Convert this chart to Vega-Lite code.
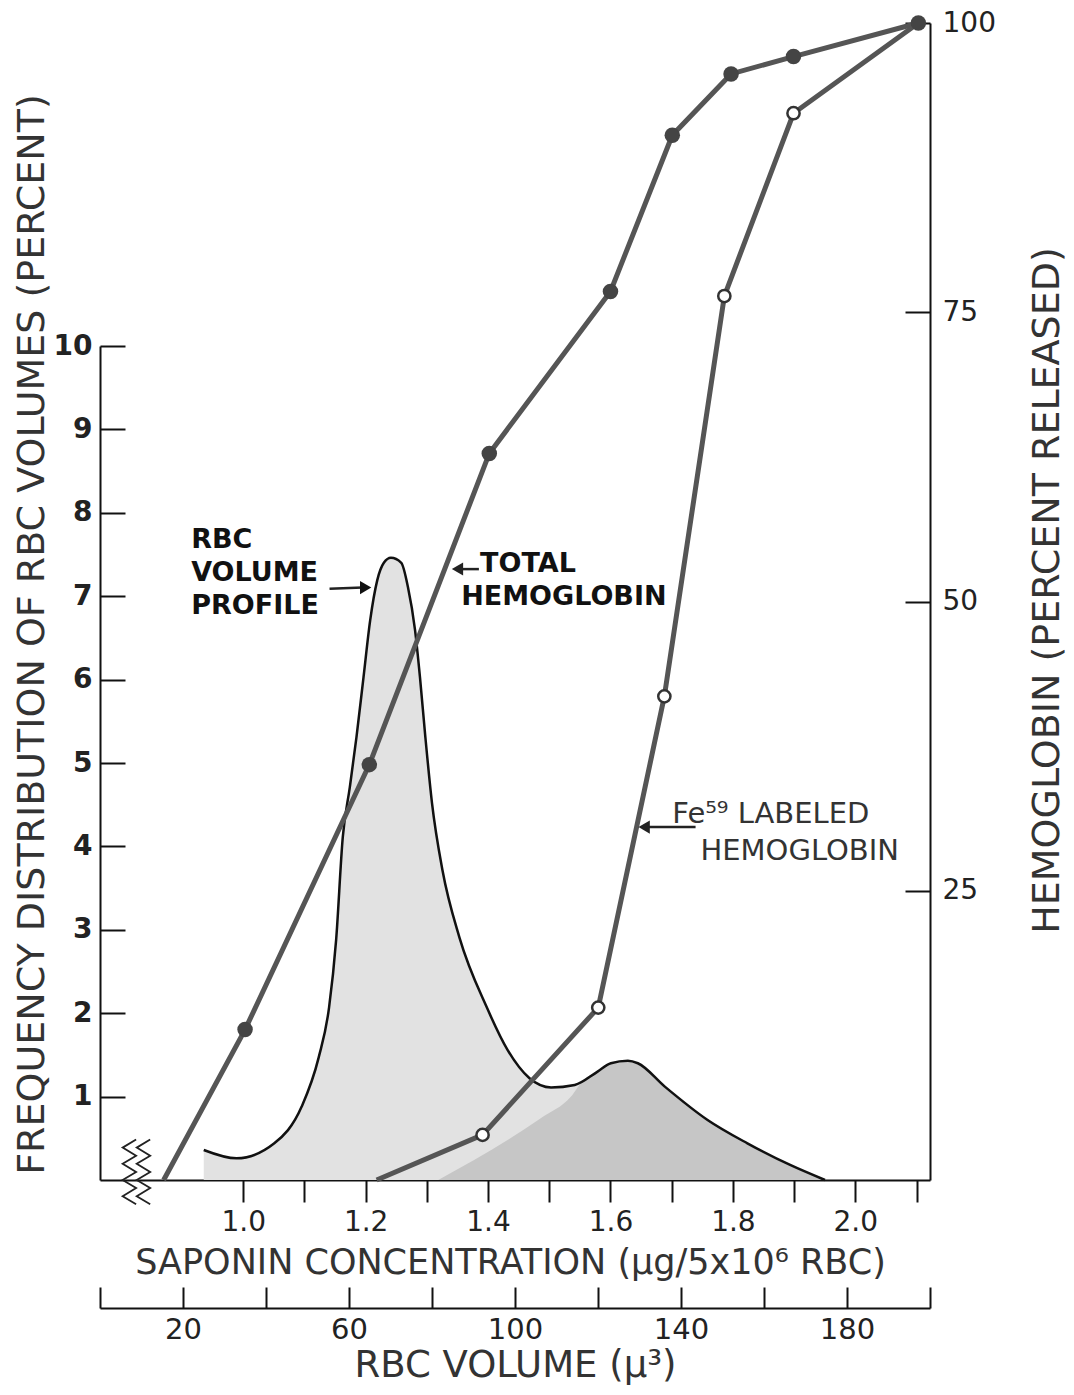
{
  "$schema": "https://vega.github.io/schema/vega-lite/v6.json",
  "width": 830,
  "height": 1157,
  "autosize": {"type": "none"},
  "padding": {"left": 100, "top": 23, "right": 144, "bottom": 215},
  "background": "white",
  "config": {
    "view": {"stroke": null},
    "font": "DejaVu Sans",
    "axis": {
      "domainColor": "#111",
      "domainWidth": 2,
      "tickColor": "#111",
      "tickWidth": 2,
      "labelColor": "#222",
      "titleColor": "#333",
      "grid": false,
      "labelFont": "DejaVu Sans",
      "titleFont": "DejaVu Sans",
      "titleFontWeight": "normal"
    }
  },
  "datasets": {
    "profile": [
      {"volume": 25.0, "freq": 0.36}, {"volume": 32.9, "freq": 0.26}, {"volume": 42.0, "freq": 0.44},
      {"volume": 48.6, "freq": 0.88}, {"volume": 52.7, "freq": 1.47}, {"volume": 55.2, "freq": 2.07},
      {"volume": 56.9, "freq": 2.88}, {"volume": 58.5, "freq": 4.11}, {"volume": 60.2, "freq": 4.71},
      {"volume": 61.8, "freq": 5.31}, {"volume": 63.5, "freq": 6.03}, {"volume": 65.1, "freq": 6.71},
      {"volume": 66.8, "freq": 7.19}, {"volume": 68.4, "freq": 7.40}, {"volume": 70.1, "freq": 7.46},
      {"volume": 72.6, "freq": 7.40}, {"volume": 74.2, "freq": 7.11}, {"volume": 75.9, "freq": 6.60},
      {"volume": 77.1, "freq": 6.03}, {"volume": 78.4, "freq": 5.31}, {"volume": 80.0, "freq": 4.52},
      {"volume": 82.5, "freq": 3.72}, {"volume": 86.6, "freq": 2.91}, {"volume": 93.2, "freq": 2.07},
      {"volume": 98.2, "freq": 1.56}, {"volume": 103.5, "freq": 1.22}, {"volume": 108.7, "freq": 1.11},
      {"volume": 114.4, "freq": 1.14}, {"volume": 119.9, "freq": 1.30}, {"volume": 123.1, "freq": 1.40},
      {"volume": 127.2, "freq": 1.43}, {"volume": 129.6, "freq": 1.40}, {"volume": 136.1, "freq": 1.12},
      {"volume": 146.4, "freq": 0.72}, {"volume": 156.0, "freq": 0.44}, {"volume": 166.3, "freq": 0.18},
      {"volume": 174.7, "freq": 0.0}
    ],
    "labeledRegion": [
      {"volume": 81.5, "freq": 0.0}, {"volume": 106.2, "freq": 0.74}, {"volume": 113.5, "freq": 1.0},
      {"volume": 116.5, "freq": 1.2}, {"volume": 119.9, "freq": 1.30}, {"volume": 123.1, "freq": 1.40},
      {"volume": 127.2, "freq": 1.43}, {"volume": 129.6, "freq": 1.40}, {"volume": 136.1, "freq": 1.12},
      {"volume": 146.4, "freq": 0.72}, {"volume": 156.0, "freq": 0.44}, {"volume": 166.3, "freq": 0.18},
      {"volume": 174.7, "freq": 0.0}
    ],
    "hemoglobin": [
      {"series": "total", "sap": 0.870, "pct": 0, "dot": false},
      {"series": "total", "sap": 1.003, "pct": 13.0, "dot": true},
      {"series": "total", "sap": 1.206, "pct": 35.9, "dot": true},
      {"series": "total", "sap": 1.402, "pct": 62.8, "dot": true},
      {"series": "total", "sap": 1.600, "pct": 76.8, "dot": true},
      {"series": "total", "sap": 1.701, "pct": 90.3, "dot": true},
      {"series": "total", "sap": 1.797, "pct": 95.6, "dot": true},
      {"series": "total", "sap": 1.899, "pct": 97.1, "dot": true},
      {"series": "total", "sap": 2.103, "pct": 100, "dot": true},
      {"series": "fe59", "sap": 1.218, "pct": 0, "dot": false},
      {"series": "fe59", "sap": 1.391, "pct": 3.9, "dot": true},
      {"series": "fe59", "sap": 1.580, "pct": 14.9, "dot": true},
      {"series": "fe59", "sap": 1.688, "pct": 41.8, "dot": true},
      {"series": "fe59", "sap": 1.786, "pct": 76.4, "dot": true},
      {"series": "fe59", "sap": 1.899, "pct": 92.2, "dot": true},
      {"series": "fe59", "sap": 2.103, "pct": 100, "dot": false}
    ],
    "zigzag": [
      {"g": "a", "k": 1, "sap": 0.825, "pct": 3.5}, {"g": "a", "k": 2, "sap": 0.803, "pct": 2.8}, {"g": "a", "k": 3, "sap": 0.825, "pct": 2.1},
      {"g": "a", "k": 4, "sap": 0.803, "pct": 1.4}, {"g": "a", "k": 5, "sap": 0.825, "pct": 0.7}, {"g": "a", "k": 6, "sap": 0.803, "pct": 0.0},
      {"g": "a", "k": 7, "sap": 0.825, "pct": -0.7}, {"g": "a", "k": 8, "sap": 0.803, "pct": -1.4}, {"g": "a", "k": 9, "sap": 0.825, "pct": -2.1},
      {"g": "b", "k": 1, "sap": 0.848, "pct": 3.5}, {"g": "b", "k": 2, "sap": 0.826, "pct": 2.8}, {"g": "b", "k": 3, "sap": 0.848, "pct": 2.1},
      {"g": "b", "k": 4, "sap": 0.826, "pct": 1.4}, {"g": "b", "k": 5, "sap": 0.848, "pct": 0.7}, {"g": "b", "k": 6, "sap": 0.826, "pct": 0.0},
      {"g": "b", "k": 7, "sap": 0.848, "pct": -0.7}, {"g": "b", "k": 8, "sap": 0.826, "pct": -1.4}, {"g": "b", "k": 9, "sap": 0.848, "pct": -2.1}
    ]
  },
  "resolve": {"scale": {"x": "independent", "y": "independent"}},
  "layer": [
    {
      "encoding": {
        "x": {
          "field": "volume", "type": "quantitative",
          "scale": {"domain": [0, 200]},
          "axis": {
            "orient": "bottom", "offset": 128,
            "values": [0, 20, 40, 60, 80, 100, 120, 140, 160, 180, 200],
            "labelExpr": "indexof([20, 60, 100, 140, 180], datum.value) >= 0 ? datum.label : ''",
            "tickSize": -21, "labelPadding": 28, "labelFontSize": 29,
            "title": "RBC VOLUME (µ³)", "titleFontSize": 37,
            "titleX": 415, "titleY": 57, "titleAlign": "center", "titleBaseline": "middle"
          }
        },
        "y": {
          "field": "freq", "type": "quantitative",
          "scale": {"domain": [0, 10], "range": [1157, 323]},
          "axis": {
            "orient": "left",
            "values": [1, 2, 3, 4, 5, 6, 7, 8, 9, 10],
            "tickSize": -25, "labelPadding": 33, "labelFontSize": 28, "labelFontWeight": "bold",
            "title": "FREQUENCY DISTRIBUTION OF RBC VOLUMES (PERCENT)", "titleFontSize": 38,
            "titleAngle": -90, "titleX": -68, "titleY": 611, "titleAlign": "center", "titleBaseline": "middle"
          }
        }
      },
      "layer": [
        {"data": {"name": "profile"}, "mark": {"type": "area", "interpolate": "monotone", "fill": "#e2e2e2"}},
        {"data": {"name": "labeledRegion"}, "mark": {"type": "area", "interpolate": "monotone", "fill": "#c6c6c6"}},
        {"data": {"name": "profile"}, "mark": {"type": "line", "interpolate": "monotone", "color": "#111", "strokeWidth": 2.5}}
      ]
    },
    {
      "encoding": {
        "x": {
          "field": "sap", "type": "quantitative",
          "scale": {"domain": [0.766, 2.122]},
          "axis": {
            "orient": "bottom",
            "values": [1.0, 1.1, 1.2, 1.3, 1.4, 1.5, 1.6, 1.7, 1.8, 1.9, 2.0, 2.1],
            "format": ".1f",
            "labelExpr": "indexof(['1.0', '1.2', '1.4', '1.6', '1.8', '2.0'], datum.label) >= 0 ? datum.label : ''",
            "tickSize": 22, "labelPadding": 6, "labelFontSize": 28,
            "title": "SAPONIN CONCENTRATION (µg/5x10⁶ RBC)", "titleFontSize": 35,
            "titleX": 410, "titleY": 82, "titleAlign": "center", "titleBaseline": "middle"
          }
        },
        "y": {
          "field": "pct", "type": "quantitative",
          "scale": {"domain": [0, 100]},
          "axis": {
            "orient": "right",
            "values": [25, 50, 75, 100],
            "tickSize": -25, "labelPadding": 37, "labelFontSize": 28,
            "title": "HEMOGLOBIN (PERCENT RELEASED)", "titleFontSize": 38,
            "titleAngle": -90, "titleX": 117, "titleY": 567, "titleAlign": "center", "titleBaseline": "middle"
          }
        }
      },
      "layer": [
        {
          "data": {"name": "hemoglobin"},
          "mark": {"type": "line", "color": "#555", "strokeWidth": 5},
          "encoding": {"detail": {"field": "series"}}
        },
        {
          "data": {"name": "hemoglobin"},
          "transform": [{"filter": "datum.series === 'total' && datum.dot"}],
          "mark": {"type": "point", "shape": "circle", "filled": true, "color": "#444", "size": 240, "opacity": 1}
        },
        {
          "data": {"name": "hemoglobin"},
          "transform": [{"filter": "datum.series === 'fe59' && datum.dot"}],
          "mark": {"type": "point", "shape": "circle", "filled": true, "fill": "white", "stroke": "#333", "strokeWidth": 2.5, "size": 150, "opacity": 1}
        },
        {
          "data": {"name": "zigzag"},
          "mark": {"type": "line", "color": "#222", "strokeWidth": 1.8},
          "encoding": {"detail": {"field": "g"}, "order": {"field": "k", "type": "quantitative"}}
        },
        {
          "data": {"values": [
            {"sap": 1.141, "pct": 51.1, "sap2": 1.195, "pct2": 51.2},
            {"sap": 1.385, "pct": 52.8, "sap2": 1.352, "pct2": 52.8},
            {"sap": 1.739, "pct": 30.5, "sap2": 1.660, "pct2": 30.5}
          ]},
          "mark": {"type": "rule", "color": "#222", "strokeWidth": 2.5},
          "encoding": {"x2": {"field": "sap2"}, "y2": {"field": "pct2"}}
        },
        {
          "data": {"values": [{"sap": 1.200, "pct": 51.2}]},
          "mark": {"type": "point", "shape": "triangle-right", "filled": true, "color": "#111", "size": 170, "opacity": 1}
        },
        {
          "data": {"values": [{"sap": 1.350, "pct": 52.8}, {"sap": 1.655, "pct": 30.5}]},
          "mark": {"type": "point", "shape": "triangle-left", "filled": true, "color": "#222", "size": 170, "opacity": 1}
        },
        {
          "data": {"values": [
            {"sap": 0.915, "pct": 55.3, "label": "RBC"},
            {"sap": 0.915, "pct": 52.5, "label": "VOLUME"},
            {"sap": 0.915, "pct": 49.6, "label": "PROFILE"},
            {"sap": 1.387, "pct": 53.2, "label": "TOTAL"},
            {"sap": 1.356, "pct": 50.4, "label": "HEMOGLOBIN"}
          ]},
          "mark": {"type": "text", "align": "left", "baseline": "middle", "fontSize": 27, "fontWeight": "bold", "color": "#111"},
          "encoding": {"text": {"field": "label"}}
        },
        {
          "data": {"values": [
            {"sap": 1.701, "pct": 31.6, "label": "Fe⁵⁹ LABELED"},
            {"sap": 1.747, "pct": 28.4, "label": "HEMOGLOBIN"}
          ]},
          "mark": {"type": "text", "align": "left", "baseline": "middle", "fontSize": 29, "color": "#333"},
          "encoding": {"text": {"field": "label"}}
        }
      ]
    }
  ]
}
